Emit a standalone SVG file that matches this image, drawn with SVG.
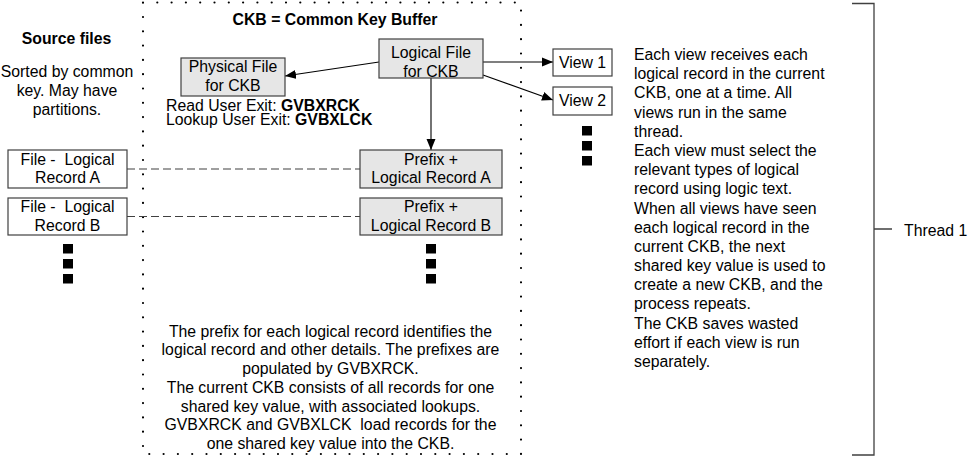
<svg xmlns="http://www.w3.org/2000/svg" width="969" height="458" viewBox="0 0 969 458">
<style>
text{font-family:"Liberation Sans",Arial,sans-serif;font-size:15.8px;fill:#000;white-space:pre}
.b{font-weight:bold}
.c{text-anchor:middle}
.box{stroke:#404040;stroke-width:1.2}
.g{fill:#e6e6e6}
.w{fill:#fff}
.sq{fill:#000}
.conn{stroke:#000;stroke-width:1.1;fill:none}
.dash{stroke:#404040;stroke-width:1.1;stroke-dasharray:8 4;fill:none}
</style>
<defs>
<marker id="ah" markerUnits="userSpaceOnUse" markerWidth="12" markerHeight="10" refX="11" refY="5" orient="auto">
<path d="M0,0.5 L11,5 L0,9.5 Z" fill="#000"/>
</marker>
</defs>
<rect x="143" y="2.5" width="378" height="451.5" fill="none" stroke="#000" stroke-width="2.2" stroke-linecap="round" stroke-dasharray="0 14.3"/>
<text class="b c" x="335" y="25">CKB = Common Key Buffer</text>
<text class="b c" x="66.5" y="44">Source files</text>
<text class="c" x="67" y="77">Sorted by common</text>
<text class="c" x="67" y="96">key. May have</text>
<text class="c" x="67" y="115">partitions.</text>
<g id="connectors">
<line class="dash" x1="127" y1="169" x2="360" y2="169"/>
<line class="dash" x1="127" y1="216.5" x2="360" y2="216.5"/>
<line class="conn" x1="379" y1="62" x2="285" y2="76" marker-end="url(#ah)"/>
<line class="conn" x1="483" y1="62" x2="553" y2="62" marker-end="url(#ah)"/>
<line class="conn" x1="483" y1="75" x2="553" y2="100" marker-end="url(#ah)"/>
<line class="conn" x1="431" y1="78" x2="431" y2="150" marker-end="url(#ah)"/>
</g>
<g id="physical">
<rect class="box g" x="181" y="58" width="104" height="38"/>
<text class="c" x="233" y="72">Physical File</text>
<text class="c" x="233" y="91">for CKB</text>
</g>
<g id="exits">
<text x="166" y="111">Read User Exit: <tspan class="b">GVBXRCK</tspan></text>
<text x="166" y="124.5">Lookup User Exit: <tspan class="b">GVBXLCK</tspan></text>
</g>
<g id="logical">
<rect class="box g" x="379" y="39" width="104" height="39"/>
<text class="c" x="431" y="58">Logical File</text>
<text class="c" x="431" y="76.5">for CKB</text>
</g>
<g id="view1">
<rect class="box w" x="553" y="49" width="59" height="27"/>
<text class="c" x="582.5" y="68">View 1</text>
</g>
<g id="view2">
<rect class="box w" x="553" y="87" width="59" height="28"/>
<text class="c" x="582.5" y="105.5">View 2</text>
</g>
<g id="viewdots">
<rect class="sq" x="582" y="126" width="10" height="9.5"/>
<rect class="sq" x="582" y="141" width="10" height="9.5"/>
<rect class="sq" x="582" y="156" width="10" height="9.5"/>
</g>
<g id="prefixA">
<rect class="box g" x="360" y="150" width="142" height="38"/>
<text class="c" x="431" y="164.5">Prefix +</text>
<text class="c" x="431" y="183">Logical Record A</text>
</g>
<g id="prefixB">
<rect class="box g" x="360" y="198" width="142" height="37"/>
<text class="c" x="431" y="212">Prefix +</text>
<text class="c" x="431" y="230.5">Logical Record B</text>
</g>
<g id="prefixdots">
<rect class="sq" x="426" y="244" width="10" height="9.5"/>
<rect class="sq" x="426" y="259" width="10" height="9.5"/>
<rect class="sq" x="426" y="274" width="10" height="9.5"/>
</g>
<g id="fileA">
<rect class="box w" x="8" y="150" width="119" height="38"/>
<text class="c" x="67.5" y="164.5">File -  Logical</text>
<text class="c" x="67.5" y="183">Record A</text>
</g>
<g id="fileB">
<rect class="box w" x="8" y="198" width="119" height="37"/>
<text class="c" x="67.5" y="212">File -  Logical</text>
<text class="c" x="67.5" y="230.5">Record B</text>
</g>
<g id="filedots">
<rect class="sq" x="63" y="244" width="10" height="9.5"/>
<rect class="sq" x="63" y="259" width="10" height="9.5"/>
<rect class="sq" x="63" y="274" width="10" height="9.5"/>
</g>
<g id="ckbnote">
<text class="c" x="330.5" y="336.5">The prefix for each logical record identifies the</text>
<text class="c" x="330.5" y="355.2">logical record and other details. The prefixes are</text>
<text class="c" x="330.5" y="374">populated by GVBXRCK.</text>
<text class="c" x="330.5" y="392.7">The current CKB consists of all records for one</text>
<text class="c" x="330.5" y="411.5">shared key value, with associated lookups.</text>
<text class="c" x="330.5" y="430.2">GVBXRCK and GVBXLCK  load records for the</text>
<text class="c" x="330.5" y="449">one shared key value into the CKB.</text>
</g>
<g id="viewnote">
<text x="634" y="60">Each view receives each</text>
<text x="634" y="79.2">logical record in the current</text>
<text x="634" y="98.4">CKB, one at a time. All</text>
<text x="634" y="117.5">views run in the same</text>
<text x="634" y="136.7">thread.</text>
<text x="634" y="155.9">Each view must select the</text>
<text x="634" y="175.1">relevant types of logical</text>
<text x="634" y="194.3">record using logic text.</text>
<text x="634" y="213.5">When all views have seen</text>
<text x="634" y="232.6">each logical record in the</text>
<text x="634" y="251.8">current CKB, the next</text>
<text x="634" y="271">shared key value is used to</text>
<text x="634" y="290.2">create a new CKB, and the</text>
<text x="634" y="309.4">process repeats.</text>
<text x="634" y="328.6">The CKB saves wasted</text>
<text x="634" y="347.7">effort if each view is run</text>
<text x="634" y="366.9">separately.</text>
</g>
<g id="thread">
<path d="M852,3.5 H874 V455 H852 M874,229 H892" fill="none" stroke="#404040" stroke-width="1.3"/>
<text x="904" y="236">Thread 1</text>
</g>
</svg>
